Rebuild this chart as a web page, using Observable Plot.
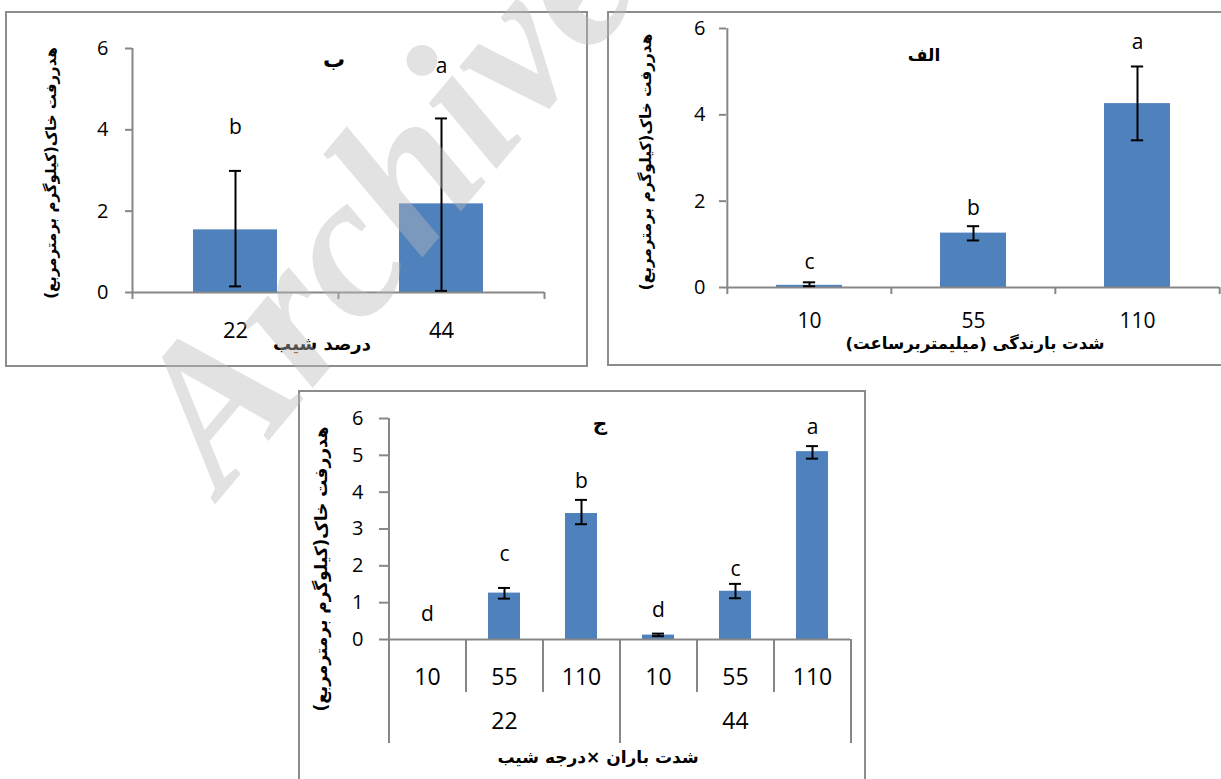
<!DOCTYPE html>
<html><head><meta charset="utf-8">
<script src="https://cdn.jsdelivr.net/npm/d3@7"></script>
<script src="https://cdn.jsdelivr.net/npm/@observablehq/plot@0.6"></script>
<style>
html,body{margin:0;padding:0;background:#fff;width:1221px;height:779px;overflow:hidden;position:relative}
.frame{position:absolute;border:2px solid #8c8c8c;box-sizing:border-box}
.fa{position:absolute;white-space:nowrap;direction:rtl;font-family:'DejaVu Sans',sans-serif;font-weight:bold;line-height:1;color:#000}
#wm{position:absolute;left:0;top:0;pointer-events:none}
#wm text{font-family:"Liberation Serif";font-style:italic;font-weight:bold;font-size:205px}
</style></head><body>
<div class="frame" style="left:5px;top:11px;width:583px;height:356px"></div>
<div class="frame" style="left:607px;top:11px;width:700px;height:355px"></div>
<div class="frame" style="left:298px;top:390px;width:568px;height:500px"></div>
<div id="charts"></div>
<div id="labels"></div>
<svg id="wm" width="1221" height="779"><text x="222" y="496" transform="rotate(-50 222 496)" fill="rgb(186,186,186)" fill-opacity="0.42">Archive of SID</text></svg>
<script>
// ---- Panel ب : soil loss by slope (%)
const slopeCats = ["22", "44"];
const slopeMean = [1.54, 2.18];
const slopeLow = [0.15, 0.04];
const slopeHigh = [2.99, 4.28];
const slopeLetters = ["b", "a"];
const slopeLetterY = [4.07, 5.56];

// ---- Panel الف : soil loss by rainfall intensity (mm/h)
const rainCats = ["10", "55", "110"];
const rainMean = [0.05, 1.26, 4.26];
const rainLow = [0.03, 1.09, 3.41];
const rainHigh = [0.12, 1.42, 5.12];
const rainLetters = ["c", "b", "a"];
const rainLetterY = [0.59, 1.83, 5.68];

// ---- Panel ج : rain intensity × slope
const comboSlopes = ["22", "44"];
const comboRains = ["10", "55", "110"];
const comboMean = [0, 1.26, 3.42, 0.12, 1.31, 5.10];
const comboLow = [null, 1.11, 3.13, 0.09, 1.12, 4.91];
const comboHigh = [null, 1.40, 3.79, 0.16, 1.51, 5.25];
const comboLetters = ["d", "c", "b", "d", "c", "a"];
const comboLetterY = [0.69, 2.31, 4.30, 0.79, 1.92, 5.75];

const yTicksTop = [0, 2, 4, 6];
const yTicksCombo = [0, 1, 2, 3, 4, 5, 6];

const yTitle = "هدررفت خاک(کیلوگرم برمترمربع)";
const titleSlope = "ب";
const titleRain = "الف";
const titleCombo = "ج";
const xTitleSlope = "درصد شیب";
const xTitleRain = "شدت بارندگی (میلیمتربرساعت)";
const xTitleCombo = "شدت باران ×درجه شیب";

const GRAY = "#878787", BLUE = "#4f81bd";
const NUM_FONT = "'Open Sans', sans-serif";

function panel(o) {
  const data = o.cats.map((c, i) => ({cat: c, mean: o.mean[i], lo: o.lo[i], hi: o.hi[i], letter: o.letters[i], ly: o.letterY[i]}));
  const n = o.cats.length;
  const step = (o.width - o.ml - o.mr) / n;
  const bw = step * (1 - o.pad);
  const capInset = (bw - 12) / 2;
  const errs = data.filter(d => d.lo != null);
  const first = o.cats[0], last = o.cats[n - 1];
  const line = {stroke: GRAY, strokeWidth: 2};
  const marks = [
    Plot.barY(data, {x: "cat", y: "mean", fill: BLUE}),
    Plot.ruleY([0], line),
    Plot.ruleX([first], {y1: 6, y2: 0, dx: -step / 2, insetBottom: -o.yExt, ...line}),
    ...(o.boundaries ? o.boundaries(step, line) : [
      Plot.ruleX(o.cats.slice(1), {y1: 0, y2: 0, dx: -step / 2, insetBottom: -7, ...line}),
      Plot.ruleX([last], {y1: 0, y2: 0, dx: step / 2, insetBottom: -7, ...line})
    ]),
    Plot.axisY({ticks: o.yTicks, tickFormat: d => String(d), tickSize: o.tickSize, tickPadding: o.tickPad, stroke: GRAY, strokeWidth: 2, fill: "black", fontSize: o.yFont, label: null, fontFamily: NUM_FONT}),
    Plot.axisX({tickSize: 0, tickPadding: o.xPad, fill: "black", fontSize: o.xFont, label: null, tickFormat: o.tickFormat, fontFamily: NUM_FONT}),
    Plot.ruleX(errs, {x: "cat", y1: "hi", y2: "lo", stroke: "black", strokeWidth: 2}),
    Plot.tickY(errs, {x: "cat", y: "lo", insetLeft: capInset, insetRight: capInset, stroke: "black", strokeWidth: 2}),
    Plot.tickY(errs, {x: "cat", y: "hi", insetLeft: capInset, insetRight: capInset, stroke: "black", strokeWidth: 2}),
    Plot.text(data, {x: "cat", y: "ly", text: "letter", fontSize: o.letterFont, fontFamily: NUM_FONT}),
    ...(o.extra ? o.extra(step) : [])
  ];
  return Plot.plot({
    width: o.width, height: o.height,
    marginLeft: o.ml, marginRight: o.mr, marginTop: o.mt, marginBottom: o.mb,
    x: {type: "band", domain: o.cats, paddingInner: o.pad, paddingOuter: o.pad / 2, label: null},
    y: {domain: [0, 6], label: null},
    style: {position: "absolute", left: o.left + "px", top: o.top + "px", background: "transparent", overflow: "visible", fontFamily: NUM_FONT, color: "black"},
    marks
  });
}

// Persian titles as HTML text (centred at given page point)
const labelHost = document.getElementById("labels");
function faLabel(text, cx, cy, size, rotate) {
  const d = document.createElement("div");
  d.className = "fa";
  d.textContent = text;
  d.style.left = cx + "px";
  d.style.top = cy + "px";
  d.style.fontSize = size + "px";
  d.style.transform = "translate(-50%,-50%)" + (rotate ? " rotate(" + rotate + "deg)" : "");
  labelHost.appendChild(d);
}

const host = document.getElementById("charts");

host.appendChild(panel({
  cats: slopeCats, mean: slopeMean, lo: slopeLow, hi: slopeHigh, letters: slopeLetters, letterY: slopeLetterY,
  left: 6, top: 12, width: 581, height: 354, ml: 126, mr: 43, mt: 36, mb: 74, pad: 0.592,
  yExt: 7, yTicks: yTicksTop, tickSize: 7, tickPad: 17, yFont: 20, xPad: 30, xFont: 22, letterFont: 21
}));

host.appendChild(panel({
  cats: rainCats, mean: rainMean, lo: rainLow, hi: rainHigh, letters: rainLetters, letterY: rainLetterY,
  left: 608, top: 12, width: 613, height: 353, ml: 118, mr: 2, mt: 16, mb: 78, pad: 0.6,
  yExt: 7, yTicks: yTicksTop, tickSize: 7, tickPad: 14, yFont: 20, xPad: 26, xFont: 21, letterFont: 21
}));

const comboCats = comboSlopes.flatMap(s => comboRains.map(r => s + "-" + r));
const comboGroups = comboSlopes.map(s => ({cat: s + "-" + comboRains[1], label: s}));

host.appendChild(panel({
  cats: comboCats, mean: comboMean, lo: comboLow, hi: comboHigh, letters: comboLetters, letterY: comboLetterY,
  left: 299, top: 391, width: 566, height: 388, ml: 89, mr: 15, mt: 27, mb: 140, pad: 0.585,
  yExt: 104, yTicks: yTicksCombo, tickSize: 9, tickPad: 16, yFont: 20, xPad: 29, xFont: 23, letterFont: 21,
  tickFormat: d => d.split("-")[1],
  boundaries: (step, line) => [
    Plot.ruleX(comboCats.filter((c, i) => i % 3 !== 0), {y1: 0, y2: 0, dx: -step / 2, insetBottom: -53, ...line}),
    Plot.ruleX(comboCats.filter((c, i) => i > 0 && i % 3 === 0), {y1: 0, y2: 0, dx: -step / 2, insetBottom: -104, ...line}),
    Plot.ruleX([comboCats[comboCats.length - 1]], {y1: 0, y2: 0, dx: step / 2, insetBottom: -104, ...line})
  ],
  extra: step => [
    Plot.text(comboGroups, {x: "cat", text: "label", frameAnchor: "bottom", dy: 89, fontSize: 23, fontFamily: NUM_FONT})
  ]
}));

// panel titles
faLabel(titleSlope, 334, 60, 22);
faLabel(titleRain, 924, 55, 17);
faLabel(titleCombo, 600, 423, 20);
// x-axis titles
faLabel(xTitleSlope, 322, 344, 18);
faLabel(xTitleRain, 975, 344, 16.5);
faLabel(xTitleCombo, 598, 757, 17);
// y-axis titles
faLabel(yTitle, 51, 173, 15, -90);
faLabel(yTitle, 647, 162, 15.3, -90);
faLabel(yTitle, 321, 569, 17, -90);
</script>
</body></html>
